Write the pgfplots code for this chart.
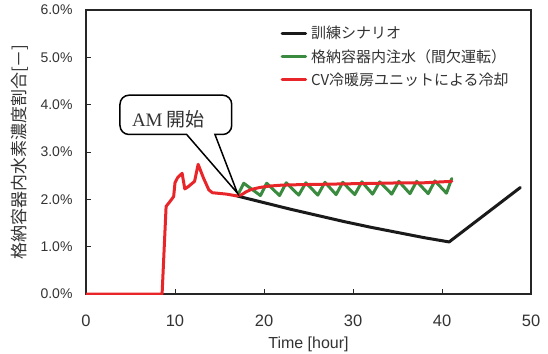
\documentclass[border=0pt]{standalone}
\usepackage{fontspec}
\setmainfont{Liberation Sans}
\newfontfamily\jp{Noto Sans CJK JP}
\newfontfamily\tms{Liberation Serif}
\usepackage{pgfplots}
\pgfplotsset{compat=1.18}
\definecolor{cblk}{HTML}{1A1A1A}
\definecolor{cgrn}{HTML}{3A8A3F}
\definecolor{cred}{HTML}{E8262A}
\definecolor{axc}{HTML}{262626}
\definecolor{txtc}{HTML}{333333}
\begin{document}
\begin{tikzpicture}
\begin{axis}[
  scale only axis, width=445pt, height=284pt,
  at={(0pt,0pt)}, anchor=south west,
  xmin=0, xmax=50, ymin=0, ymax=6,
  xtick={0,10,20,30,40,50}, ytick={0,1,2,3,4,5,6},
  tick pos=left, tick align=inside, major tick length=5pt,
  axis line style={line width=2pt, draw=axc},
  major tick style={line width=1pt, draw=axc},
  /pgf/number format/assume math mode=true,
  yticklabel={\pgfmathprintnumber[fixed,fixed zerofill,precision=1]{\tick}\%},
  yticklabel style={font=\fontsize{14}{14}\selectfont, text=txtc, xshift=-10pt},
  xticklabel style={font=\fontsize{16.5}{16.5}\selectfont, text=txtc, yshift=-17pt},
  xlabel={Time [hour]},
  xlabel style={font=\fontsize{16}{16}\selectfont, text=txtc, at={(axis description cs:0.5,0)}, anchor=center, yshift=-50.5pt},
  ylabel={\jp 格納容器内水素濃度割合[－]},
  ylabel style={font=\fontsize{17}{17}\selectfont, text=txtc, at={(axis description cs:0,0.5)}, anchor=center, yshift=66pt},
  legend style={at={(rel axis cs:0.430,0.951)}, anchor=north west, draw=none, fill=none,
    font=\jp\fontsize{15}{15}\selectfont, text=txtc, row sep=9pt,
    nodes={inner sep=0pt}},
  legend cell align=left,
  legend image code/.code={\draw[#1] (0pt,0pt) -- (23.5pt,0pt); \path (27.5pt,0pt);},
  every axis plot/.append style={line width=3pt, line join=round, line cap=round},
]
\addplot[cblk] coordinates {
(17.0,2.07) (20,1.93) (23,1.79) (26,1.66) (29,1.53) (32,1.41) (35,1.30) (38,1.19) (40.8,1.10) (48.8,2.25)
};
\addlegendentry{訓練シナリオ}
\addplot[cgrn] coordinates {
(17.0,2.07) (17.72,2.34) (19.6,2.08) (20.3,2.34) (21.75,2.08) (22.5,2.35) (23.9,2.09)
(24.7,2.35) (26.05,2.09) (26.85,2.36) (28.1,2.10) (28.85,2.36) (30.2,2.10) (31.0,2.37)
(32.2,2.11) (33.0,2.37) (34.35,2.11) (35.15,2.38) (36.4,2.12) (37.15,2.38) (38.45,2.12)
(39.2,2.39) (40.5,2.13) (41.1,2.44)
};
\addlegendentry{格納容器内注水（間欠運転）}
\addplot[cred] coordinates {
(0,0) (8.55,0) (9.0,1.85) (9.5,1.97) (9.85,2.06) (10.0,2.35) (10.3,2.46) (10.8,2.55)
(11.1,2.22) (11.5,2.27) (12.2,2.38) (12.6,2.74) (13.2,2.45) (13.8,2.20) (14.2,2.14)
(15.8,2.11) (17.0,2.07) (17.5,2.10) (18.0,2.16) (18.6,2.21) (19.5,2.25) (20.6,2.28)
(22,2.30) (24,2.31) (27,2.32) (30,2.33) (33,2.34) (36,2.35) (38,2.35) (39,2.36) (41.1,2.38)
};
\addlegendentry{CV冷暖房ユニットによる冷却}
\draw[line width=1.5pt, fill=white, draw=black]
  (axis cs:11.31,3.37) [rounded corners=9pt] -- (axis cs:3.82,3.37) -- (axis cs:3.82,4.20)
  -- (axis cs:16.37,4.20) -- (axis cs:16.37,3.37) [sharp corners] -- (axis cs:14.49,3.37)
  -- (axis cs:17.02,2.13) -- cycle;
\node[anchor=base, inner sep=0pt, text=txtc, font=\fontsize{19}{19}\selectfont] at (axis cs:9.25,3.535) {\tms AM\hspace{4pt}\jp 開始};
\end{axis}
\pgfresetboundingbox
\path[use as bounding box] (-86pt,-59pt) rectangle (462pt,294pt);
\end{tikzpicture}
\end{document}
